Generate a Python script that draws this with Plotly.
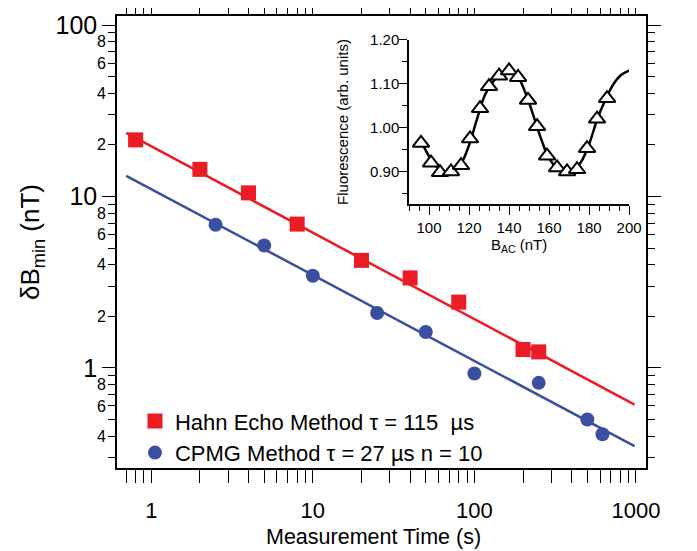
import plotly.graph_objects as go

# main panel: measurement time (s) vs dB_min (nT)
hahn_t = [0.8, 2, 4, 8, 20, 40, 80, 200, 250]
hahn_b = [21.4, 14.4, 10.5, 6.9, 4.24, 3.35, 2.42, 1.28, 1.24]
cpmg_t = [2.5, 5, 10, 25, 50, 100, 250, 500, 620]
cpmg_b = [6.84, 5.18, 3.45, 2.09, 1.62, 0.927, 0.818, 0.50, 0.41]

# fitted lines, end points
fit_t = [0.7, 980]
hahn_fit = [23.5, 0.61]
cpmg_fit = [13.2, 0.35]

# inset: fluorescence vs B_AC
bac = [96, 101, 105.5, 111, 116, 120.5, 125.5, 130, 135, 140,
       144.5, 149.5, 154, 159, 164, 169, 174, 179, 184, 189]
fluo = [0.965, 0.920, 0.898, 0.900, 0.914, 0.975, 1.044, 1.094, 1.118, 1.130,
        1.115, 1.063, 1.003, 0.936, 0.909, 0.900, 0.905, 0.953, 1.020, 1.067]
curve_b = [96, 100, 104, 108, 112, 116, 120, 124, 128, 132, 136, 140, 144,
           148, 152, 156, 160, 164, 168, 172, 176, 180, 184, 188, 192, 196, 200]
curve_f = [0.970, 0.935, 0.910, 0.898, 0.900, 0.918, 0.960, 1.020, 1.075, 1.105,
           1.122, 1.127, 1.118, 1.082, 1.030, 0.975, 0.930, 0.908, 0.898, 0.902,
           0.922, 0.962, 1.018, 1.062, 1.098, 1.120, 1.130]

# tick positions / labels
x_major = [1, 10, 100, 1000]
x_minor = [0.7, 0.8, 0.9] + [m * d for d in (1, 10, 100) for m in range(2, 10)]
y_major = [1, 10, 100]
y_minor = [0.3, 0.4, 0.5, 0.6, 0.7, 0.8, 0.9] + [m * d for d in (1, 10) for m in range(2, 10)]
y_lab = [0.4, 0.6, 0.8, 2, 4, 6, 8, 20, 40, 60, 80]
y_lab_text = ['4', '6', '8', '2', '4', '6', '8', '2', '4', '6', '8']

RED = '#ec1c24'
BLUE = '#3a4fa2'
FONT = 'Liberation Sans, Arial, sans-serif'

fig = go.Figure()

fig.add_trace(go.Scatter(x=fit_t, y=hahn_fit, mode='lines', line=dict(color=RED, width=2.5),
                         showlegend=False, hoverinfo='skip'))
fig.add_trace(go.Scatter(x=fit_t, y=cpmg_fit, mode='lines', line=dict(color=BLUE, width=2.5),
                         showlegend=False, hoverinfo='skip'))
fig.add_trace(go.Scatter(x=hahn_t, y=hahn_b, mode='markers',
                         marker=dict(symbol='square', size=15, color=RED),
                         name='Hahn Echo Method \u03c4 = 115 \u00a0\u00b5s'))
fig.add_trace(go.Scatter(x=cpmg_t, y=cpmg_b, mode='markers',
                         marker=dict(symbol='circle', size=14, color=BLUE),
                         name='CPMG Method \u03c4 = 27 \u00b5s n = 10'))
# invisible copy so the minor-label axis gets drawn
fig.add_trace(go.Scatter(x=hahn_t, y=hahn_b, mode='markers', yaxis='y3',
                         marker=dict(opacity=0), showlegend=False, hoverinfo='skip'))

# inset
fig.add_trace(go.Scatter(x=curve_b, y=curve_f, mode='lines', xaxis='x2', yaxis='y2',
                         line=dict(color='black', width=2.5, shape='spline'),
                         showlegend=False, hoverinfo='skip'))
fig.add_trace(go.Scatter(x=bac, y=fluo, mode='markers', xaxis='x2', yaxis='y2',
                         marker=dict(symbol='triangle-up', size=14.5, color='white',
                                     line=dict(color='black', width=2)),
                         showlegend=False))

axis_common = dict(showline=True, linecolor='black', linewidth=1.5, mirror='allticks',
                   ticks='outside', tickcolor='black', tickwidth=1.3, ticklen=13,
                   showgrid=False, zeroline=False, automargin=False)

# the page body adds 8px, so margins are shifted to compensate
fig.update_layout(
    width=697, height=551,
    margin=dict(l=109, r=59, t=8, b=91),
    paper_bgcolor='white', plot_bgcolor='white',
    font=dict(family=FONT, color='black'),
    xaxis=dict(type='log', range=[-0.212, 3.062], domain=[0, 1],
               tickvals=x_major, ticktext=['1', '10', '100', '1000'],
               tickfont=dict(size=22), ticklabelstandoff=9,
               minor=dict(tickvals=x_minor, ticks='outside', ticklen=7, tickwidth=1.2,
                          tickcolor='black', showgrid=False),
               **axis_common),
    yaxis=dict(type='log', range=[-0.584, 2.053], domain=[0, 1],
               tickvals=y_major, ticktext=['1', '10', '100'],
               tickfont=dict(size=25),
               minor=dict(tickvals=y_minor, ticks='outside', ticklen=7, tickwidth=1.2,
                          tickcolor='black', showgrid=False),
               title=dict(text='\u03b4B<sub>min</sub> (nT)', font=dict(size=26), standoff=8),
               **axis_common),
    yaxis3=dict(type='log', range=[-0.584, 2.053], overlaying='y', side='left', anchor='x',
                tickvals=y_lab, ticktext=y_lab_text,
                tickfont=dict(size=16), ticks='outside', ticklen=7, tickwidth=1.2,
                tickcolor='black', showline=False, showgrid=False, zeroline=False,
                automargin=False),
    xaxis2=dict(domain=[0.552, 0.968], anchor='y2', range=[90, 200],
                tick0=0, dtick=20, ticks='outside', ticklen=9, tickwidth=1.3, tickcolor='black',
                minor=dict(dtick=5, tick0=0, ticks='outside', ticklen=5, tickwidth=1.2,
                           tickcolor='black', showgrid=False),
                showline=True, linecolor='black', linewidth=1.5, showgrid=False, zeroline=False,
                tickfont=dict(size=15), automargin=False,
                title=dict(text='B<sub>AC</sub> (nT)', font=dict(size=15), standoff=4)),
    yaxis2=dict(domain=[0.584, 0.947], anchor='x2', range=[0.826, 1.2],
                tickvals=[0.9, 1.0, 1.1, 1.2], tickformat='.2f',
                ticks='outside', ticklen=8, tickwidth=1.3, tickcolor='black',
                ticklabelstandoff=-3,
                minor=dict(tickvals=[0.85, 0.95, 1.05, 1.15], ticks='outside', ticklen=5,
                           tickwidth=1.2, tickcolor='black', showgrid=False),
                showline=True, linecolor='black', linewidth=1.5, showgrid=False, zeroline=False,
                tickfont=dict(size=15), automargin=False,
                title=dict(text='Fluorescence (arb. units)', font=dict(size=15), standoff=18)),
    legend=dict(x=0.034, y=0.15, xanchor='left', yanchor='top', bgcolor='rgba(0,0,0,0)',
                font=dict(size=22), itemwidth=30, tracegroupgap=0),
    annotations=[dict(text='Measurement Time (s)', xref='paper', yref='paper',
                      x=0.484, y=-0.153, xanchor='center', yanchor='middle',
                      showarrow=False, font=dict(size=21.5))],
)

fig.write_html("out.html")
